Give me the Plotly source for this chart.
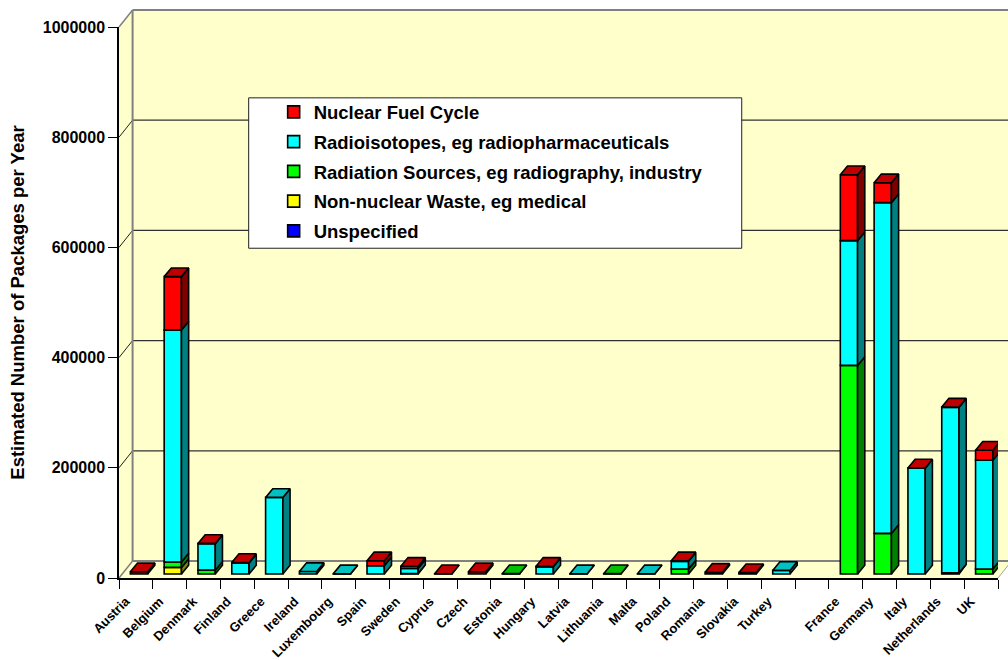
import plotly.graph_objects as go

categories = ["Austria","Belgium","Denmark","Finland","Greece","Ireland","Luxembourg","Spain","Sweden","Cyprus",
              "Czech","Estonia","Hungary","Latvia","Lithuania","Malta","Poland","Romania","Slovakia","Turkey",
              "","France","Germany","Italy","Netherlands","UK"]
unspecified = [0]*26
non_nuclear = [0,12000,0,0,0,0,0,0,0,0,0,0,0,0,0,0,0,0,0,0,0,0,0,0,0,0]
radiation   = [0,9700,7000,0,0,0,0,0,1000,0,0,600,0,0,600,0,9000,0,0,0,0,378600,73700,0,2000,9000]
radioiso    = [0,421000,48000,20000,139000,4500,300,15000,9000,0,0,0,13000,400,0,400,14000,0,0,6500,0,226400,600300,192000,300500,197500]
nuclear     = [4000,97000,500,1000,0,0,0,9000,4000,500,4000,0,1000,0,0,0,1000,3000,2500,0,0,119600,36000,500,500,18100]
y_ticks = [0,200000,400000,600000,800000,1000000]

series = [
    ("Unspecified", unspecified, "#0000FF", "#0000C0", "#000080"),
    ("Non-nuclear Waste, eg medical", non_nuclear, "#FFFF00", "#C0C000", "#808000"),
    ("Radiation Sources, eg radiography, industry", radiation, "#00FF00", "#00C000", "#008000"),
    ("Radioisotopes, eg radiopharmaceuticals", radioiso, "#00FFFF", "#00C0C0", "#008080"),
    ("Nuclear Fuel Cycle", nuclear, "#FF0000", "#C00000", "#800000"),
]

FONT = "Liberation Sans"
L, R, T, B = 118.7, 998.5, 26.6, 578.0
PX_X = (R - L) / 26
PX_Y = (B - T) / 1e6
BAR_SHIFT, BAR_W = 3.1 / PX_X, 17.3 / PX_X
BAR_BASE = 4 / PX_Y
DEP_DX, DEP_DY = 7.2 / PX_X, 8.7 / PX_Y
idx = list(range(26))
X_MIN, X_MAX = -0.5, 25.5

def px_x(p): return (p - L) / (R - L)
def px_y(p): return (B - p) / (B - T)

WALL_DX, WALL_DY = 13.6 / (R - L), 17 / (B - T)

fig = go.Figure()

def poly(xs, ys, fill):
    fig.add_trace(go.Scatter(x=xs, y=ys, mode="lines", fill="toself", fillcolor=fill,
                             line=dict(color="black", width=1.6),
                             showlegend=False, hoverinfo="skip"))

# stacked front faces and depth faces computed from the values
bases = [BAR_BASE]*26
last_series = {}
for i in idx:
    for s, (_, vals, *_r) in enumerate(series):
        if vals[i] > 0:
            last_series[i] = s

for s, (name, vals, front, top, side) in enumerate(series):
    ys = [v if v > 0 else None for v in vals]
    fig.add_trace(go.Bar(x=[i + BAR_SHIFT for i in idx], y=ys, base=list(bases), width=BAR_W,
                         name=name, legendgroup=name, legendrank=10 - s,
                         marker=dict(color=front, line=dict(color="black", width=1.6)),
                         hoverinfo="skip"))
    sx, sy, tx, ty = [], [], [], []
    for i in idx:
        if vals[i] <= 0:
            continue
        xl = i + BAR_SHIFT - BAR_W/2
        xr = i + BAR_SHIFT + BAR_W/2
        y0, y1 = bases[i], bases[i] + vals[i]
        sx += [xr, xr+DEP_DX, xr+DEP_DX, xr, xr, None]
        sy += [y0, y0+DEP_DY, y1+DEP_DY, y1, y0, None]
        if last_series[i] == s:
            tx += [xl, xr, xr+DEP_DX, xl+DEP_DX, xl, None]
            ty += [y1, y1, y1+DEP_DY, y1+DEP_DY, y1, None]
    if sx:
        poly(sx, sy, side)
    if tx:
        poly(tx, ty, top)
    bases = [b + v for b, v in zip(bases, vals)]

# chart walls (paper coordinates: x 0..1 spans the axis, y 0..1 spans 0..1e6)
def seg(x0, y0, x1, y1, color, width):
    return dict(type="line", xref="paper", yref="paper", layer="below",
                x0=x0, y0=y0, x1=x1, y1=y1, line=dict(color=color, width=width))

wall_path = f"M 0 0 L 0 1 L {WALL_DX} {1+WALL_DY} L {1+WALL_DX} {1+WALL_DY} L {1+WALL_DX} {WALL_DY} L 1 0 Z"
shapes = [dict(type="path", xref="paper", yref="paper", layer="below", path=wall_path,
               fillcolor="#FFFFCC", line=dict(width=0))]
for v in y_ticks[1:-1]:
    f = v / 1e6
    shapes.append(seg(0, f, WALL_DX, f + WALL_DY, "#202020", 1))
    shapes.append(seg(WALL_DX, f + WALL_DY, 1 + WALL_DX, f + WALL_DY, "#303030", 1.2))
shapes += [
    seg(0, 1, WALL_DX, 1 + WALL_DY, "#808080", 1.5),
    seg(WALL_DX, 1 + WALL_DY, 1 + WALL_DX, 1 + WALL_DY, "#808080", 2),
    seg(WALL_DX, WALL_DY, WALL_DX, 1 + WALL_DY, "#808080", 2),
    seg(0, 0, WALL_DX, WALL_DY, "#808080", 1.5),
    seg(WALL_DX, WALL_DY, 1 + WALL_DX, WALL_DY, "#808080", 2),
    seg(1, 0, 1 + WALL_DX, WALL_DY, "#A0A0A0", 1),
    dict(type="rect", xref="paper", yref="paper", layer="above",
         x0=px_x(248.5), x1=px_x(742), y0=px_y(97.5), y1=px_y(248),
         fillcolor="white", line=dict(color="#202020", width=1)),
]

fig.update_layout(
    width=1008, height=660, autosize=False,
    margin=dict(l=L, r=1008-R, t=T, b=660-B, pad=0, autoexpand=False),
    paper_bgcolor="white", plot_bgcolor="rgba(0,0,0,0)",
    barmode="overlay",
    font=dict(family=FONT, color="black"),
    shapes=shapes,
    legend=dict(x=px_x(273.5), y=px_y(93), xanchor="left", yanchor="top",
                bgcolor="rgba(0,0,0,0)", borderwidth=0,
                traceorder="grouped", tracegroupgap=2.7,
                font=dict(family=FONT, size=18.5, color="black", weight="bold")),
    xaxis=dict(range=[X_MIN, X_MAX], tickmode="array", tickvals=[i-0.3 for i in idx], ticktext=categories,
               tickangle=-45, ticks="outside", ticklen=9, tickcolor="rgba(0,0,0,0)", showgrid=False, zeroline=False,
               showline=True, linecolor="black", linewidth=1.5, automargin=False,
               tickfont=dict(family=FONT, size=13, color="black", weight="bold"),
               minor=dict(tickmode="array", tickvals=[i-0.5 for i in range(27)], ticks="outside",
                          ticklen=9, tickwidth=1.2, tickcolor="black", showgrid=False)),
    yaxis=dict(range=[0, 1e6], tickmode="array", tickvals=y_ticks, ticktext=[str(v) for v in y_ticks],
               ticks="outside", ticklen=9, tickwidth=1.2, tickcolor="black", showgrid=False, zeroline=False,
               showline=True, linecolor="black", linewidth=1.5, automargin=False,
               tickfont=dict(family=FONT, size=16, color="black", weight="bold"),
               title=dict(text="Estimated Number of Packages per Year", standoff=13,
                          font=dict(family=FONT, size=18.5, color="black", weight="bold"))),
)

fig.write_html("out.html", post_script="document.body.style.margin='0';", config={"displayModeBar": False})
